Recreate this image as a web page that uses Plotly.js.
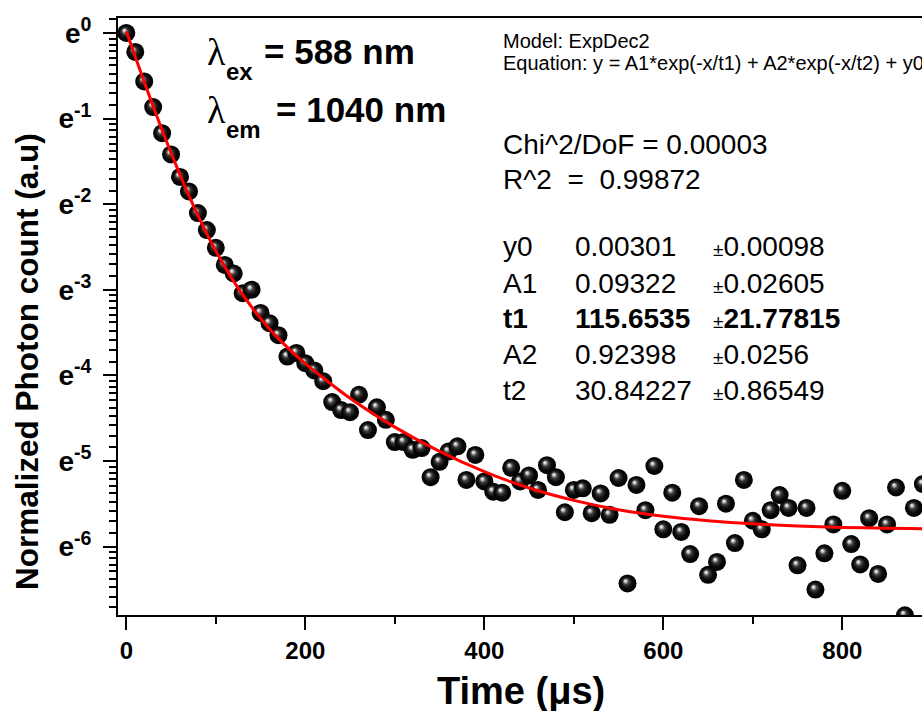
<!DOCTYPE html>
<html><head><meta charset="utf-8">
<script src="https://cdn.plot.ly/plotly-3.0.1.min.js"></script>
<style>html,body{margin:0;padding:0;overflow:hidden;background:#fff}#chart{width:960px;height:711px}</style>
</head><body><div id="chart"></div>
<script>
// ---- data ----
const timeUs = [0,10,20,30,40,50,60,70,80,90,
  100,110,120,130,140,150,160,170,180,190,
  200,210,220,230,240,250,260,270,280,290,
  300,310,320,330,340,350,360,370,380,390,
  400,410,420,430,440,450,460,470,480,490,
  500,510,520,530,540,550,560,570,580,590,
  600,610,620,630,640,650,660,670,680,690,
  700,710,720,730,740,750,760,770,780,790,
  800,810,820,830,840,850,860,870,880,890];
const photonCount = [1.000,0.801,0.568,0.421,0.310,0.242,0.186,0.157,0.122,0.100,
  0.0813,0.0665,0.0602,0.0478,0.0498,0.0380,0.0337,0.0293,0.0228,0.0238,
  0.0211,0.0194,0.0171,0.0134,0.0122,0.0119,0.0146,0.00966,0.0126,0.0109,
  0.00840,0.00840,0.00767,0.00783,0.00557,0.00667,0.00752,0.00799,0.00540,0.00723,
  0.00530,0.00470,0.00465,0.00622,0.00530,0.00569,0.00480,0.00641,0.00557,0.00370,
  0.00480,0.00489,0.00366,0.00461,0.00359,0.00552,0.00161,0.00509,0.00379,0.00635,
  0.00303,0.00465,0.00294,0.00227,0.00397,0.00178,0.00207,0.00409,0.00258,0.00540,
  0.00335,0.00303,0.00379,0.00452,0.00389,0.00199,0.00389,0.00150,0.00229,0.00321,
  0.00475,0.00255,0.00201,0.00345,0.00180,0.00321,0.00494,0.00111,0.00389,0.00514];
const fitTime = [0,10,20,30,40,50,60,70,80,90,100,120,140,160,180,200,250,300,350,400,450,500,550,600,650,700,750,800,850,900,950];
const fitCount = [1.0202,0.7567,0.5645,0.4243,0.3215,0.2461,0.1906,0.1494,0.1187,0.0957,0.0784,0.0549,0.0407,0.0315,0.0254,0.0210,0.0140,0.0100,0.00754,0.00595,0.00491,0.00425,0.00381,0.00353,0.00335,0.00323,0.00315,0.00310,0.00307,0.00305,0.00304];
const yTickVals = [1, 0.367879, 0.135335, 0.049787, 0.018316, 0.006738, 0.002479];
const yTickText = ['e<sup>0</sup>','e<sup>-1</sup>','e<sup>-2</sup>','e<sup>-3</sup>','e<sup>-4</sup>','e<sup>-5</sup>','e<sup>-6</sup>'];
const xTickVals = [0,200,400,600,800];
const xTickText = ['0','200','400','600','800'];
const fitParamNames = ['y0','A1','<b>t1</b>','A2','t2'];
const fitParamValues = ['0.00301','0.09322','<b>115.6535</b>','0.92398','30.84227'];
const fitParamErrors = ['0.00098','0.02605','<b>21.77815</b>','0.0256','0.86549'];

// ---- minor ticks on the e-based log axis (9 per e-interval, linear in value) ----
const yMinor = [];
for (let n = -1; n <= 6; n++) {
  const lo = Math.exp(-(n + 1)), hi = Math.exp(-n);
  for (let k = 1; k <= 9; k++) yMinor.push(lo + k * (hi - lo) / 10);
}

const FONT = 'Liberation Sans, Arial, sans-serif';
const L = 118, T = 18, W = 960 - L, H = 615 - T;
const P = px => (px - L) / W;
const Q = py => 1 - (py - T) / H;

const ann = [];
function add(text, px, py, size, opts) {
  ann.push(Object.assign({text: text, x: P(px), y: Q(py), xref: 'paper', yref: 'paper',
    xanchor: 'left', yanchor: 'middle', showarrow: false,
    font: {family: FONT, size: size, color: '#000'}}, opts || {}));
}
// lambda labels
add('λ', 205, 52, 38, {font: {family: 'Liberation Serif, serif', size: 38, color: '#000'}});
add('<b>ex</b>', 224, 72, 24);
add('<b>= 588 nm</b>', 262, 52, 35);
add('λ', 205, 110, 38, {font: {family: 'Liberation Serif, serif', size: 38, color: '#000'}});
add('<b>em</b>', 224, 130, 24);
add('<b>= 1040 nm</b>', 274, 110, 35);
// fit report
add('Model: ExpDec2', 501, 41, 20);
add('Equation: y = A1*exp(-x/t1) + A2*exp(-x/t2) + y0', 501, 63, 20);
add('Chi^2/DoF = 0.00003', 501, 144, 28);
add('R^2  =  0.99872', 501, 179, 28);
const rowY = [247, 283, 318, 354, 390];
for (let i = 0; i < rowY.length; i++) {
  add(fitParamNames[i], 501, rowY[i], 28);
  add(fitParamValues[i], 573, rowY[i], 28);
  add('<span style="font-size:19px">±</span>' + fitParamErrors[i], 711, rowY[i], 28);
}
// axis titles
add('<b>Normalized Photon count (a.u)</b>', 27, 362, 31.5, {xanchor: 'center', textangle: -90});
add('<b>Time (μs)</b>', 521, 691, 38, {xanchor: 'center'});

const data = [
  {x: timeUs, y: photonCount, type: 'scatter', mode: 'markers', cliponaxis: true,
   marker: {size: 18, color: '#999', gradient: {type: 'radial', color: '#000'}, line: {width: 0}},
   hoverinfo: 'skip'},
  {x: fitTime, y: fitCount, type: 'scatter', mode: 'lines', cliponaxis: true,
   line: {color: '#ff0000', width: 3, shape: 'spline', smoothing: 0.6}, hoverinfo: 'skip'}
];

const layout = {
  width: 960, height: 711,
  margin: {l: L, r: 0, t: T, b: 711 - 615, pad: 0},
  paper_bgcolor: '#fff', plot_bgcolor: '#fff',
  showlegend: false,
  font: {family: FONT, color: '#000'},
  xaxis: {
    range: [-9.3, 931.5], tickmode: 'array', tickvals: xTickVals, ticktext: xTickText,
    ticks: 'outside', ticklen: 13, tickwidth: 2, tickcolor: '#000',
    showline: true, linewidth: 2, linecolor: '#000', mirror: true,
    showgrid: false, zeroline: false,
    tickfont: {family: FONT, size: 24, color: '#000', weight: 'bold'},
    minor: {tickmode: 'linear', tick0: 0, dtick: 100, ticks: 'outside', ticklen: 7, tickwidth: 2, tickcolor: '#000', showgrid: false}
  },
  yaxis: {
    type: 'log', range: [Math.log10(Math.exp(-6.80)), Math.log10(Math.exp(0.175))],
    tickmode: 'array', tickvals: yTickVals, ticktext: yTickText,
    ticks: 'outside', ticklen: 13, tickwidth: 2, tickcolor: '#000', ticklabelstandoff: 6,
    showline: true, linewidth: 2, linecolor: '#000', mirror: true,
    showgrid: false, zeroline: false,
    tickfont: {family: FONT, size: 28, color: '#000', weight: 'bold'},
    minor: {tickmode: 'array', tickvals: yMinor, ticks: 'outside', ticklen: 7, tickwidth: 2, tickcolor: '#000', showgrid: false}
  },
  annotations: ann
};

Plotly.newPlot('chart', data, layout, {staticPlot: true, displayModeBar: false}).then(gd => {
  const NS = 'http://www.w3.org/2000/svg';
  const stops = [[0, '#ffffff'], [0.12, '#cfcfcf'], [0.35, '#3a3a3a'], [0.65, '#0a0a0a'], [1, '#000000']];
  gd.querySelectorAll('radialGradient').forEach(g => {
    g.setAttribute('cx', '0.5'); g.setAttribute('cy', '0.5'); g.setAttribute('r', '0.5');
    g.setAttribute('fx', '0.37'); g.setAttribute('fy', '0.34');
    while (g.firstChild) g.removeChild(g.firstChild);
    stops.forEach(([o, c]) => {
      const s = document.createElementNS(NS, 'stop');
      s.setAttribute('offset', o); s.setAttribute('stop-color', c);
      g.appendChild(s);
    });
  });
});
</script></body></html>
